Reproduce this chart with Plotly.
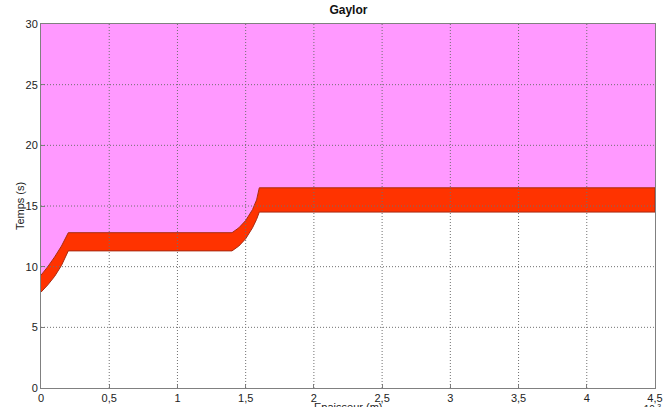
import plotly.graph_objects as go

# Upper boundary of the red band (x in 1e-3 m, y in s)
upper_x = [0.0, 0.05, 0.10, 0.15, 0.20, 1.40, 1.45, 1.50, 1.55, 1.58, 1.60, 4.5]
upper_y = [9.3, 10.0, 10.8, 11.7, 12.8, 12.8, 13.2, 13.8, 14.7, 15.5, 16.5, 16.5]
# Lower boundary of the red band
lower_x = [0.0, 0.05, 0.10, 0.15, 0.20, 1.40, 1.45, 1.50, 1.55, 1.58, 1.60, 4.5]
lower_y = [7.9, 8.5, 9.2, 10.1, 11.3, 11.3, 11.7, 12.3, 13.2, 13.9, 14.5, 14.5]

y_max = 30
x_ticks = [0, 0.5, 1, 1.5, 2, 2.5, 3, 3.5, 4, 4.5]
x_ticktext = ["0", "0,5", "1", "1,5", "2", "2,5", "3", "3,5", "4", "4,5"]
y_ticks = [0, 5, 10, 15, 20, 25, 30]
y_ticktext = ["0", "5", "10", "15", "20", "25", "30"]

fig = go.Figure()

# Pink region above the band
fig.add_trace(go.Scatter(
    x=upper_x + [upper_x[-1], upper_x[0]],
    y=upper_y + [y_max, y_max],
    fill="toself", fillcolor="#FF99FF", mode="lines",
    line=dict(width=0, color="#FF99FF"), hoverinfo="skip", showlegend=False))

# Red band
fig.add_trace(go.Scatter(
    x=upper_x + lower_x[::-1],
    y=upper_y + lower_y[::-1],
    fill="toself", fillcolor="#FF3300", mode="lines",
    line=dict(width=1, color="#A82A10"), hoverinfo="skip", showlegend=False))

font = "Liberation Sans, Arial, sans-serif"
grid_line = dict(color="#707070", width=1, dash="1px,2px")

shapes = []
for v in x_ticks[1:-1]:
    shapes.append(dict(type="line", xref="x", yref="y", x0=v, x1=v, y0=y_ticks[0], y1=y_ticks[-1],
                       line=grid_line, layer="above"))
for v in y_ticks[1:-1]:
    shapes.append(dict(type="line", xref="x", yref="y", x0=x_ticks[0], x1=x_ticks[-1], y0=v, y1=v,
                       line=grid_line, layer="above"))

fig.update_layout(
    width=670, height=407,
    margin=dict(l=41, r=15, t=24, b=19, autoexpand=False),
    paper_bgcolor="white", plot_bgcolor="white",
    title=dict(text="<b>Gaylor</b>", x=0.52, xref="container", y=0.975, yref="container",
               xanchor="center", yanchor="middle", automargin=False,
               font=dict(family=font, size=12, color="#111")),
    font=dict(family=font, size=11, color="#222"),
    shapes=shapes,
    annotations=[
        dict(text="Temps (s)", xref="paper", yref="paper", x=-0.034, y=0.5, textangle=-90,
             xanchor="center", yanchor="middle", showarrow=False,
             font=dict(family=font, size=11, color="#222")),
        dict(text="Epaisseur (m)", xref="paper", yref="paper", x=0.5, y=-0.030,
             yanchor="top", showarrow=False, font=dict(family=font, size=11, color="#222")),
        dict(text="x 10<sup>-3</sup>", xref="paper", yref="paper", x=0.99, y=-0.036,
             xanchor="center", yanchor="top", showarrow=False,
             font=dict(family=font, size=10, color="#222")),
    ],
)
fig.update_xaxes(range=[x_ticks[0], x_ticks[-1]], tickvals=x_ticks, ticktext=x_ticktext,
                 showgrid=False, zeroline=False, showline=True, mirror=True, automargin=False,
                 linecolor="#808080", linewidth=1, ticks="inside", ticklen=4,
                 tickcolor="#808080", layer="above traces", ticklabelstandoff=0)
fig.update_yaxes(range=[y_ticks[0], y_ticks[-1]], tickvals=y_ticks, ticktext=y_ticktext,
                 showgrid=False, zeroline=False, showline=True, mirror=True, automargin=False,
                 linecolor="#808080", linewidth=1, ticks="inside", ticklen=4,
                 tickcolor="#808080", layer="above traces", ticklabelstandoff=0)

fig.write_html("out.html", config={"displayModeBar": False},
               post_script="document.body.style.margin='0';document.body.style.padding='0';"
                           "document.documentElement.style.overflow='hidden';")
